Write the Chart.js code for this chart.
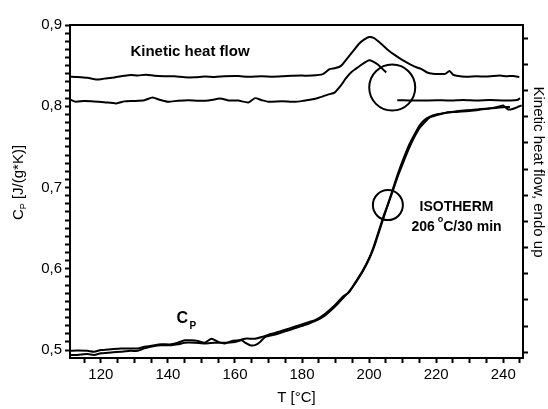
<!DOCTYPE html>
<html><head><meta charset="utf-8">
<script src="https://cdn.jsdelivr.net/npm/chart.js@4.4.1/dist/chart.umd.min.js"></script>
<style>html,body{margin:0;padding:0;background:#fff}canvas{display:block}</style>
</head><body>
<canvas id="c" width="548" height="409"></canvas>
<script>
// ---- data ----
const cpAT = [110.8,113,116,118,120,123,126,129,131,133,136,138,141,143,145,147,149,151,153,155,157,159,161,163,166,168,170,172,175,178,181,184,187,190,192,194,196,198,200,201.5,203,204.5,205.6,207,208.5,210.4,212,213.5,215,216.5,218,220,223,226,229,232,235,237,239,240,241.5,243,244.8,245.5];
const cpA  = [0.499,0.4995,0.499,0.498,0.500,0.501,0.502,0.502,0.502,0.504,0.506,0.507,0.507,0.509,0.512,0.512,0.511,0.509,0.514,0.510,0.508,0.511,0.512,0.514,0.514,0.516,0.519,0.521,0.525,0.529,0.533,0.537,0.545,0.556,0.565,0.571,0.584,0.597,0.613,0.629,0.648,0.667,0.679,0.695,0.713,0.733,0.749,0.762,0.773,0.780,0.786,0.789,0.792,0.793,0.794,0.795,0.797,0.798,0.800,0.801,0.796,0.797,0.800,0.801];
const cpBT = [110.8,113,116,118,120,123,126,129,131,133,136,138,141,143,145,148,151,154,157,160,162,163,164.5,166,167.5,169,172,175,178,181,184,187,190,192,194,196,198,200,201.5,203,204.5,205.6,207,208.5,210.4,212,213.5,215,216.5,218,220,223,226,229,232,235,238,240.5,242];
const cpB  = [0.494,0.494,0.495,0.494,0.496,0.497,0.498,0.499,0.499,0.502,0.505,0.506,0.506,0.507,0.509,0.509,0.508,0.509,0.509,0.510,0.512,0.509,0.506,0.506,0.510,0.516,0.519,0.523,0.527,0.531,0.536,0.543,0.554,0.563,0.572,0.583,0.596,0.612,0.627,0.646,0.665,0.679,0.697,0.716,0.737,0.753,0.765,0.776,0.783,0.787,0.790,0.792,0.794,0.795,0.796,0.797,0.798,0.799,0.799];
const khfUpperT = [110.8,113,116,118.8,121,124,127,129,131,133.5,136,139,142,145,148,151,154,157,161,164,168,171,174,177,179.8,183,186.2,188.2,190,191.6,193.5,195.6,197,198.5,200,201.5,203,204.4,206,207.4,209.5,211.3,213,214.3,215.5,217.3,219,221.2,222.7,224,225,226.1,229,232,235,238.9,241,243,244.8];
const khfUpper  = [0.8364,0.8360,0.8350,0.8328,0.8340,0.8355,0.8375,0.8385,0.8378,0.8389,0.8375,0.8370,0.8368,0.8356,0.8356,0.8365,0.8360,0.8370,0.8372,0.8362,0.8368,0.8364,0.8368,0.8375,0.8377,0.8378,0.8396,0.8457,0.8470,0.8497,0.8590,0.8698,0.8770,0.8819,0.8851,0.8839,0.8790,0.8738,0.8680,0.8638,0.8580,0.8537,0.8500,0.8477,0.8460,0.8416,0.8400,0.8397,0.8398,0.8435,0.8390,0.8376,0.8364,0.8370,0.8365,0.8377,0.8370,0.8372,0.8360];
const khfLowerT = [110.8,112.5,115,118,121,124.6,127,130,133,135.4,137.5,140,143,146,149,152,155.6,158,161,164,166,168,170,174,177.9,180.5,182.8,185,187.7,189.7,191.6,193,194.6,196,197.5,199,200,201.2,202.5,204,205.1];
const khfLower  = [0.8083,0.8055,0.8065,0.8060,0.8050,0.8035,0.8060,0.8065,0.8075,0.8107,0.8080,0.8055,0.8068,0.8075,0.8068,0.8070,0.8095,0.8072,0.8070,0.8047,0.8100,0.8075,0.8055,0.8062,0.8055,0.8068,0.8083,0.8105,0.8143,0.8167,0.8256,0.8340,0.8416,0.8460,0.8505,0.8545,0.8566,0.8550,0.8517,0.8460,0.8416];
const khfIsoT = [208.4,212,216,220,224,228,232,236,240,243.5,244.4,245];
const khfIso  = [0.8075,0.8072,0.8070,0.8075,0.8070,0.8078,0.8072,0.8076,0.8072,0.8074,0.8080,0.8100];
const circleBig   = [{x:206.9, y:0.823}];
const circleSmall = [{x:205.6, y:0.6784}];

const xTickValues = [115,120,125,130,135,140,145,150,155,160,165,170,175,180,185,190,195,200,205,210,215,220,225,230,235,240,245];
const xTickLabels = [120,140,160,180,200,220,240];
const yTickValues = [0.50,0.51,0.52,0.53,0.54,0.55,0.56,0.57,0.58,0.59,0.60,0.61,0.62,0.63,0.64,0.65,0.66,0.67,0.68,0.69,0.70,0.71,0.72,0.73,0.74,0.75,0.76,0.77,0.78,0.79,0.80,0.81,0.82,0.83,0.84,0.85,0.86,0.87,0.88,0.89,0.90];
const yTickLabels = [0.5,0.6,0.7,0.8,0.9];
const y2TickValues = [0,1,2,3,4,5,6,7,8,9,10,11,12];

const pts = (t, v) => t.map((x, i) => ({x, y: v[i]}));
const FONT = '"Liberation Sans", Arial, sans-serif';

const lineDs = (label, data) => ({label, data, showLine:true, borderColor:'#000', borderWidth:2, pointRadius:0, tension:0.2, fill:false, xAxisID:'x', yAxisID:'y'});
const circDs = (label, data, r) => ({label, data, showLine:false, pointRadius:r, pointBackgroundColor:'rgba(0,0,0,0)', pointBorderColor:'#000', pointBorderWidth:2, xAxisID:'x', yAxisID:'y'});

const textPlugin = {
  id: 'texts',
  afterDraw(chart) {
    const ctx = chart.ctx;
    ctx.save();
    ctx.fillStyle = '#000';
    ctx.textBaseline = 'alphabetic';
    // Kinetic heat flow label
    ctx.font = 'bold 15px ' + FONT;
    ctx.textAlign = 'center';
    ctx.fillText('Kinetic heat flow', 190, 56);
    // ISOTHERM
    ctx.font = 'bold 14px ' + FONT;
    ctx.fillText('ISOTHERM', 456.5, 210.5);
    ctx.textAlign = 'left';
    ctx.fillText('206 ', 411.5, 230.7);
    let w = ctx.measureText('206 ').width;
    ctx.font = 'bold 9px ' + FONT;
    ctx.fillText('o', 411.5 + w - 1, 222);
    let w2 = ctx.measureText('o').width;
    ctx.font = 'bold 14px ' + FONT;
    ctx.fillText('C/30 min', 411.5 + w + w2 - 1, 230.7);
    // C_P
    ctx.font = 'bold 16px ' + FONT;
    ctx.fillText('C', 176.5, 323.3);
    ctx.font = 'bold 10px ' + FONT;
    ctx.fillText('P', 189.5, 328.5);
    // Left axis title (rotated)
    ctx.save();
    ctx.translate(23, 182.5);
    ctx.rotate(-Math.PI / 2);
    ctx.font = '15px ' + FONT;
    const wc = ctx.measureText('C').width;
    const rest = ' [J/(g*K)]';
    const wr = ctx.measureText(rest).width;
    ctx.font = '9px ' + FONT;
    const wp = ctx.measureText('P').width;
    const total = wc + wp + wr;
    let x0 = -total / 2;
    ctx.font = '15px ' + FONT;
    ctx.fillText('C', x0, 0);
    ctx.font = '9px ' + FONT;
    ctx.fillText('P', x0 + wc, 3);
    ctx.font = '15px ' + FONT;
    ctx.fillText(rest, x0 + wc + wp, 0);
    ctx.restore();
    // Right axis title (rotated clockwise)
    ctx.save();
    ctx.translate(534, 172);
    ctx.rotate(Math.PI / 2);
    ctx.font = '15px ' + FONT;
    ctx.textAlign = 'center';
    ctx.fillText('Kinetic heat flow, endo up', 0, 0);
    ctx.restore();
    ctx.restore();
  }
};

new Chart(document.getElementById('c'), {
  type: 'scatter',
  data: {
    datasets: [
      lineDs('Cp run 1', pts(cpAT, cpA)),
      lineDs('Cp run 2', pts(cpBT, cpB)),
      lineDs('Kinetic heat flow 1', pts(khfUpperT, khfUpper)),
      lineDs('Kinetic heat flow 2', pts(khfLowerT, khfLower)),
      lineDs('Isotherm 206 °C/30 min', pts(khfIsoT, khfIso)),
      circDs('marker 1', circleBig, 23),
      circDs('marker 2', circleSmall, 15)
    ]
  },
  options: {
    responsive: false,
    animation: false,
    devicePixelRatio: 1,
    events: [],
    layout: { padding: 0 },
    plugins: { legend: { display: false }, tooltip: { enabled: false } },
    scales: {
      x: {
        type: 'linear', position: 'bottom', min: 110.8, max: 245.9,
        afterBuildTicks: s => { s.ticks = xTickValues.map(v => ({value: v})); },
        afterFit: s => { s.height = 51; },
        ticks: { autoSkip: false, maxRotation: 0, color: '#000', padding: 3,
          font: { family: FONT, size: 15 },
          callback: v => xTickLabels.includes(v) ? String(v) : '' },
        grid: { drawOnChartArea: false, drawTicks: true, tickLength: 5, color: '#000', tickWidth: 2 },
        border: { display: true, color: '#000', width: 2 },
        title: { display: true, text: 'T [°C]', color: '#000', font: { family: FONT, size: 15 }, padding: { top: 0, bottom: 2 } }
      },
      x2: {
        type: 'linear', position: 'top', display: true, min: 0, max: 1,
        afterFit: s => { s.height = 18; },
        ticks: { display: false },
        grid: { display: false, drawTicks: false },
        border: { display: true, color: '#000', width: 2 }
      },
      y: {
        type: 'linear', position: 'left', min: 0.4902, max: 0.9,
        afterBuildTicks: s => { s.ticks = yTickValues.map(v => ({value: v})); },
        afterFit: s => { s.width = 70; },
        ticks: { autoSkip: false, color: '#000', padding: 3,
          font: { family: FONT, size: 15 },
          callback: v => yTickLabels.some(l => Math.abs(l - v) < 1e-6) ? v.toFixed(1).replace('.', ',') : '' },
        grid: { drawOnChartArea: false, drawTicks: true, tickLength: 5, color: '#000', tickWidth: 2 },
        border: { display: true, color: '#000', width: 2 }
      },
      y2: {
        type: 'linear', position: 'right', min: -0.22, max: 12.51,
        afterBuildTicks: s => { s.ticks = y2TickValues.map(v => ({value: v})); },
        afterFit: s => { s.width = 21; },
        ticks: { display: true, callback: () => '' },
        grid: { drawOnChartArea: false, drawTicks: true, tickLength: 5, color: '#000', tickWidth: 2 },
        border: { display: true, color: '#000', width: 2 }
      }
    }
  },
  plugins: [textPlugin]
});
</script>
</body></html>
